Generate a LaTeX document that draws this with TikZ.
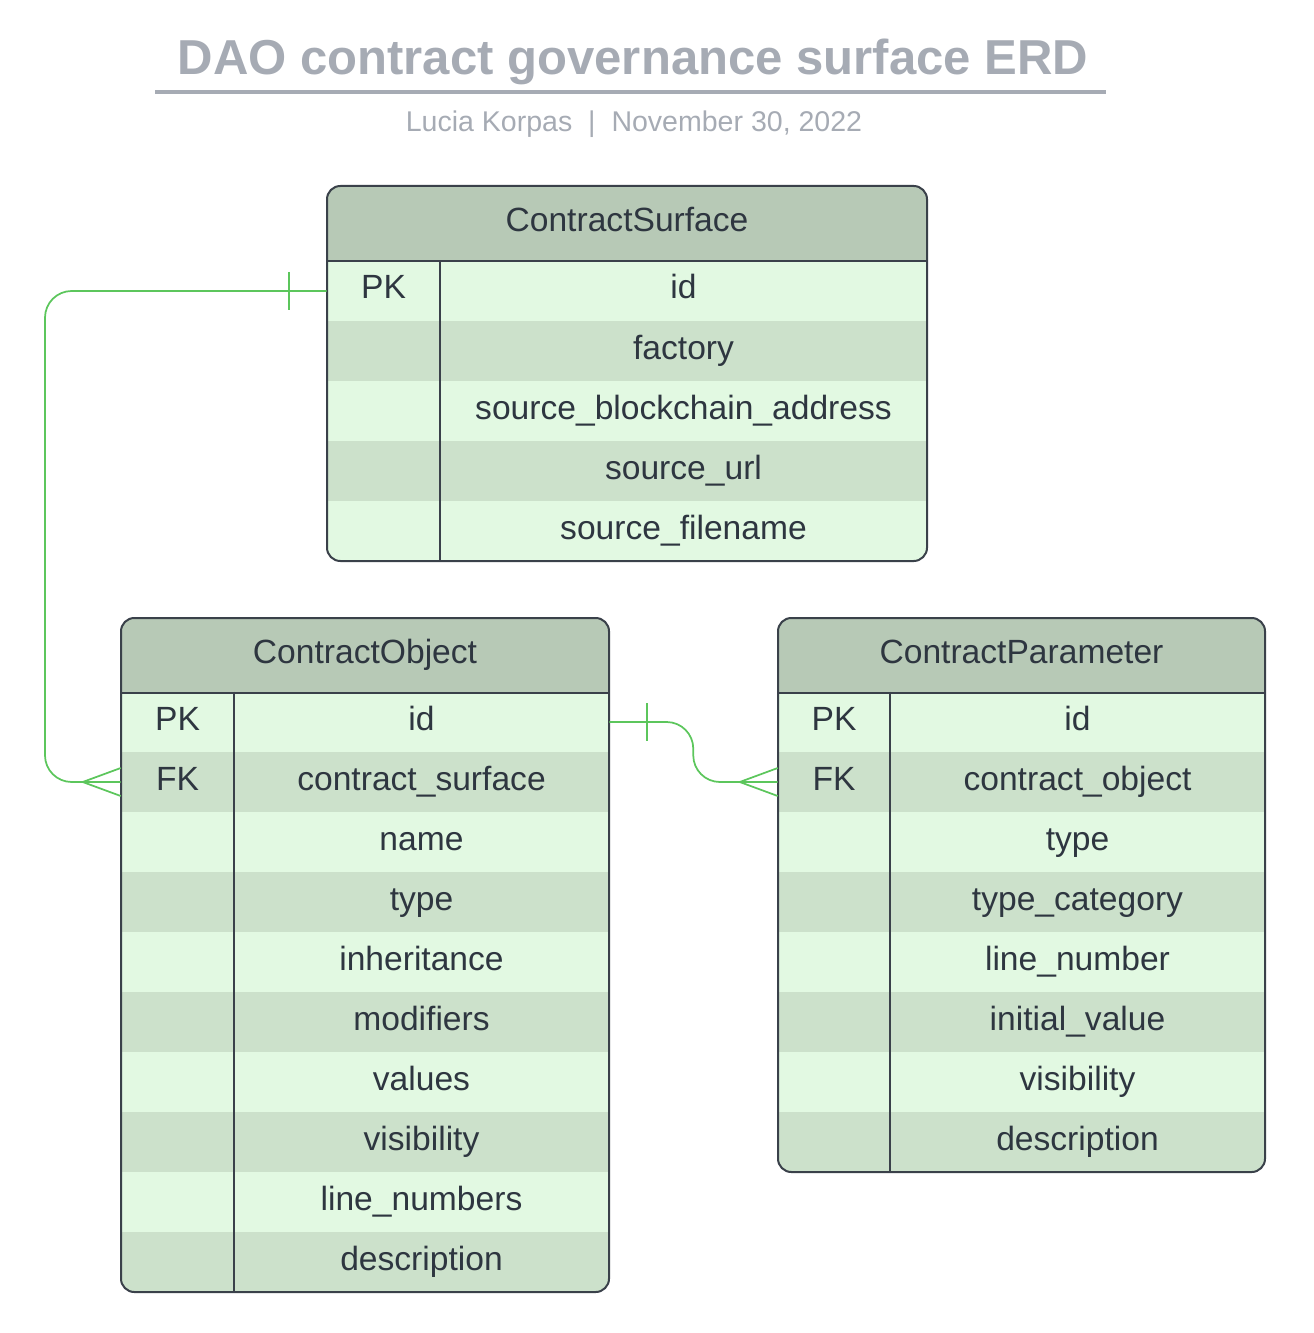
\documentclass[tikz,border=0pt]{standalone}
\usepackage{fontspec}
\setmainfont{Liberation Sans}
\usetikzlibrary{positioning}

\definecolor{headfill}{HTML}{B7C9B6}
\definecolor{rowlight}{HTML}{E2F9E2}
\definecolor{rowdark}{HTML}{CCE1CB}
\definecolor{ink}{HTML}{2E3640}
\definecolor{edgegray}{HTML}{3A414A}
\definecolor{titlegray}{HTML}{A6ABB4}
\definecolor{linkgreen}{HTML}{5CC65C}

\newdimen\pxu \pxu=0.75pt

\tikzset{
  head/.style={fill=headfill, minimum height=75\pxu, inner sep=0pt, text=ink,
    text height=17pt, text depth=5pt,
    font=\fontsize{25.2pt}{30pt}\selectfont},
  cell/.style={minimum height=60\pxu, inner sep=0pt, text=ink,
    text height=17pt, text depth=5pt,
    font=\fontsize{25.2pt}{30pt}\selectfont},
  frame/.style={draw=edgegray, line width=1.5pt},
  divider/.style={draw=edgegray, line width=1.2pt},
  link/.style={draw=linkgreen, line width=1.3pt},
}

\begin{document}
\begin{tikzpicture}[x=0.75pt, y=-0.75pt]
  \useasboundingbox (0,0) rectangle (1313,1333);

  % title
  \node[text=titlegray, font=\bfseries\fontsize{36.8pt}{44pt}\selectfont] (title) at (633,62) {DAO contract governance surface ERD};
  \draw[titlegray, line width=2.4pt] (155,92) -- (1106,92);
  \node[text=titlegray, font=\fontsize{21.4pt}{26pt}\selectfont] (subtitle) at (634,124) {Lucia Korpas~~|~~November 30, 2022};

  % ContractSurface
  \begin{scope}
    \clip[rounded corners=10] (327,186) rectangle (927,561);
    \node[head, minimum width=600\pxu] (cs) at (627,223.5) {ContractSurface};
    \foreach \k/\f [count=\i] in {PK/id, /factory, /source\_blockchain\_address, /source\_url, /source\_filename} {
      \ifodd\i \def\rowcol{rowlight}\else \def\rowcol{rowdark}\fi
      \node[cell, fill=\rowcol, minimum width=113\pxu] (cs-k\i) at (383.5,231+60*\i) {\k};
      \node[cell, fill=\rowcol, minimum width=487\pxu] (cs-n\i) at (683.5,231+60*\i) {\f};
    }
  \end{scope}
  \draw[divider] (cs.south west) -- (cs.south east);
  \draw[divider] (cs-k1.north east) -- (cs-k5.south east);
  \draw[frame, rounded corners=10] (327,186) rectangle (927,561);

  % ContractObject
  \begin{scope}
    \clip[rounded corners=10] (121,618) rectangle (609,1292);
    \node[head, minimum width=488\pxu] (co) at (365,655) {ContractObject};
    \foreach \k/\f [count=\i] in {PK/id, FK/contract\_surface, /name, /type, /inheritance, /modifiers, /values, /visibility, /line\_numbers, /description} {
      \ifodd\i \def\rowcol{rowlight}\else \def\rowcol{rowdark}\fi
      \node[cell, fill=\rowcol, minimum width=113\pxu] (co-k\i) at (177.5,662+60*\i) {\k};
      \node[cell, fill=\rowcol, minimum width=375\pxu] (co-n\i) at (421.5,662+60*\i) {\f};
    }
  \end{scope}
  \draw[divider] (co.south west) -- (co.south east);
  \draw[divider] (co-k1.north east) -- (co-k10.south east);
  \draw[frame, rounded corners=10] (121,618) rectangle (609,1292);

  % ContractParameter
  \begin{scope}
    \clip[rounded corners=10] (778,618) rectangle (1265,1172);
    \node[head, minimum width=487\pxu] (cp) at (1021.5,655) {ContractParameter};
    \foreach \k/\f [count=\i] in {PK/id, FK/contract\_object, /type, /type\_category, /line\_number, /initial\_value, /visibility, /description} {
      \ifodd\i \def\rowcol{rowlight}\else \def\rowcol{rowdark}\fi
      \node[cell, fill=\rowcol, minimum width=112\pxu] (cp-k\i) at (834,662+60*\i) {\k};
      \node[cell, fill=\rowcol, minimum width=375\pxu] (cp-n\i) at (1077.5,662+60*\i) {\f};
    }
  \end{scope}
  \draw[divider] (cp.south west) -- (cp.south east);
  \draw[divider] (cp-k1.north east) -- (cp-k8.south east);
  \draw[frame, rounded corners=10] (778,618) rectangle (1265,1172);

  % ContractSurface -- ContractObject
  \coordinate (bend1) at (45,291);
  \draw[link, rounded corners=20] (cs-k1.west) -- (bend1) |- (co-k2.west);
  \draw[link] ([xshift=-38\pxu]cs-k1.west) ++(0,-19) -- ++(0,38);
  \draw[link] ([xshift=-38\pxu]co-k2.west) -- ([yshift=14\pxu]co-k2.west)
              ([xshift=-38\pxu]co-k2.west) -- ([yshift=-14\pxu]co-k2.west);

  % ContractObject -- ContractParameter
  \draw[link, rounded corners=20] (co-n1.east) -- ++(84,0) |- (cp-k2.west);
  \draw[link] ([xshift=38\pxu]co-n1.east) ++(0,-19) -- ++(0,38);
  \draw[link] ([xshift=-38\pxu]cp-k2.west) -- ([yshift=14\pxu]cp-k2.west)
              ([xshift=-38\pxu]cp-k2.west) -- ([yshift=-14\pxu]cp-k2.west);
\end{tikzpicture}
\end{document}
